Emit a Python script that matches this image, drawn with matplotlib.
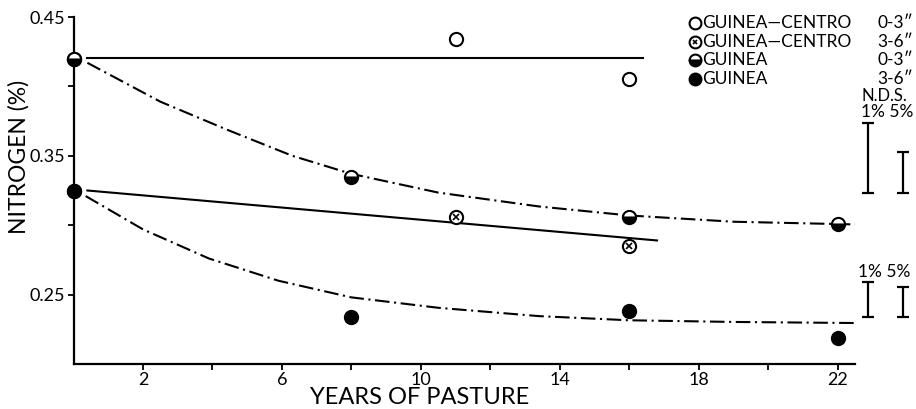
import matplotlib
matplotlib.use("Agg")
import matplotlib.pyplot as plt
from matplotlib.lines import Line2D

plt.rcParams['font.family'] = ['Lato', 'DejaVu Sans']

# ---- data ----
gc03_x = [0, 11, 16]
gc03_y = [0.420, 0.434, 0.405]
gc36_x = [0, 11, 16]
gc36_y = [0.325, 0.306, 0.285]
g03_x = [0, 8, 16, 22]
g03_y = [0.420, 0.335, 0.306, 0.301]
g36_x = [0, 8, 16, 22]
g36_y = [0.325, 0.234, 0.238, 0.219]

# fitted lines
gc03_fit_x = [0.4, 16.4]
gc03_fit_y = [0.4205, 0.4205]
gc36_fit_x = [0.4, 16.8]
gc36_fit_y = [0.325, 0.289]
g03_fit_x = [0.4, 2.5, 4.4, 6.3, 8.0, 10.5, 13.4, 16.0, 19.0, 22.6]
g03_fit_y = [0.417, 0.389, 0.369, 0.350, 0.337, 0.3235, 0.3135, 0.307, 0.3025, 0.3005]
g36_fit_x = [0.35, 2.0, 3.9, 5.9, 8.0, 10.5, 13.4, 16.0, 19.0, 22.6]
g36_fit_y = [0.321, 0.297, 0.276, 0.260, 0.248, 0.2405, 0.2345, 0.2315, 0.2303, 0.2295]

# N.D.S. bars (1% and 5%)
nds_base = [0.3234, 0.2342]
nds_1pct = [0.0503, 0.0252]
nds_5pct = [0.0290, 0.0210]

xticks_major = [2, 6, 10, 14, 18, 22]
xticks_minor = [4, 8, 12, 16, 20]
yticks_major = [0.25, 0.35, 0.45]
yticks_minor = [0.30, 0.40]

W, H = 916, 409
fig = plt.figure(figsize=(W / 100, H / 100), dpi=100)
ax = fig.add_axes([73.5 / W, 1 - 364 / H, (855 - 73.5) / W, (364 - 17) / H])
ax.set_xlim(0, 22.5)
ax.set_ylim(0.20, 0.45)

for s in ['top', 'right']:
    ax.spines[s].set_visible(False)
for s in ['left', 'bottom']:
    ax.spines[s].set_linewidth(1.6)

lw = 1.5
dashdot = (0, (7, 2.2, 1, 2.2))
ax.plot(gc03_fit_x, gc03_fit_y, color='black', lw=lw)
ax.plot(gc36_fit_x, gc36_fit_y, color='black', lw=lw)
ax.plot(g03_fit_x, g03_fit_y, color='black', lw=lw, linestyle=dashdot)
ax.plot(g36_fit_x, g36_fit_y, color='black', lw=lw, linestyle=dashdot)

ms = 9.5
mew = 1.5
open_kw = dict(marker='o', ms=ms, mfc='white', mec='black', mew=mew, ls='none', clip_on=False, zorder=5)

ax.plot(gc03_x, gc03_y, **open_kw)
ax.plot(gc36_x, gc36_y, **open_kw)
ax.plot(gc36_x, gc36_y, marker='x', ms=4, mec='black', mew=1.2, ls='none', clip_on=False, zorder=6)
ax.plot(g03_x, g03_y, marker='o', ms=ms, fillstyle='bottom', mfc='black', mfcalt='white',
        mec='black', mew=mew, ls='none', clip_on=False, zorder=7)
ax.plot(g36_x, g36_y, marker='o', ms=ms, mfc='black', mec='black', mew=mew, ls='none',
        clip_on=False, zorder=8)

# N.D.S. bars
x1 = (868 - 73.5) / 34.75
x5 = (903 - 73.5) / 34.75
for b, d1, d5 in zip(nds_base, nds_1pct, nds_5pct):
    for xx, d in ((x1, d1), (x5, d5)):
        cont = ax.errorbar([xx], [b + d / 2], yerr=[d / 2], fmt='none', ecolor='black',
                           elinewidth=1.6, capsize=4, capthick=1.6)
        for c in cont.get_children():
            c.set_clip_on(False)

# ticks
ax.set_xticks(xticks_major)
ax.set_xticklabels([str(v) for v in xticks_major])
ax.set_xticks(xticks_minor, minor=True)
ax.set_yticks(yticks_major)
ax.set_yticklabels(['0.25', '0.35', '0.45'])
ax.set_yticks(yticks_minor, minor=True)
ax.tick_params(axis='both', which='both', direction='out', length=4, width=1.3, labelsize=13, pad=2)

ax.set_xlabel('YEARS OF PASTURE', fontsize=17, va='center')
ax.xaxis.set_label_coords((420 - 73.5) / (855 - 73.5), (364 - 397) / 347)
ax.set_ylabel('NITROGEN (%)', fontsize=16.5, va='center')
ax.yaxis.set_label_coords((19 - 73.5) / (855 - 73.5), (364 - 157) / 347)

# legend (manual)
def fx(px):
    return px / W
def fy(py):
    return 1 - py / H

rows = [23, 42, 60, 79]
names = ['GUINEA\u2014CENTRO', 'GUINEA\u2014CENTRO', 'GUINEA', 'GUINEA']
depths = ['0-3\u2033', '3-6\u2033', '0-3\u2033', '3-6\u2033']
lms = 8.5
fig.add_artist(Line2D([fx(695)], [fy(rows[0])], marker='o', ms=lms, mfc='white', mec='black', mew=1.5, ls='none'))
fig.add_artist(Line2D([fx(695)], [fy(rows[1])], marker='o', ms=lms, mfc='white', mec='black', mew=1.5, ls='none'))
fig.add_artist(Line2D([fx(695)], [fy(rows[1])], marker='x', ms=3.5, mec='black', mew=1.2, ls='none'))
fig.add_artist(Line2D([fx(695)], [fy(rows[2])], marker='o', ms=lms, fillstyle='bottom', mfc='black',
                      mfcalt='white', mec='black', mew=1.5, ls='none'))
fig.add_artist(Line2D([fx(695)], [fy(rows[3])], marker='o', ms=lms, mfc='black', mec='black', mew=1.5, ls='none'))
for r, n, d in zip(rows, names, depths):
    fig.text(fx(702), fy(r), n, fontsize=12.5, ha='left', va='center')
    fig.text(fx(913), fy(r), d, fontsize=12.5, ha='right', va='center')

fig.text(fx(884), fy(96), 'N.D.S.', fontsize=12, ha='center', va='center')
fig.text(fx(887), fy(112), '1% 5%', fontsize=12.5, ha='center', va='center')
fig.text(fx(884), fy(272), '1% 5%', fontsize=12.5, ha='center', va='center')

fig.savefig('out.png', dpi=100)
